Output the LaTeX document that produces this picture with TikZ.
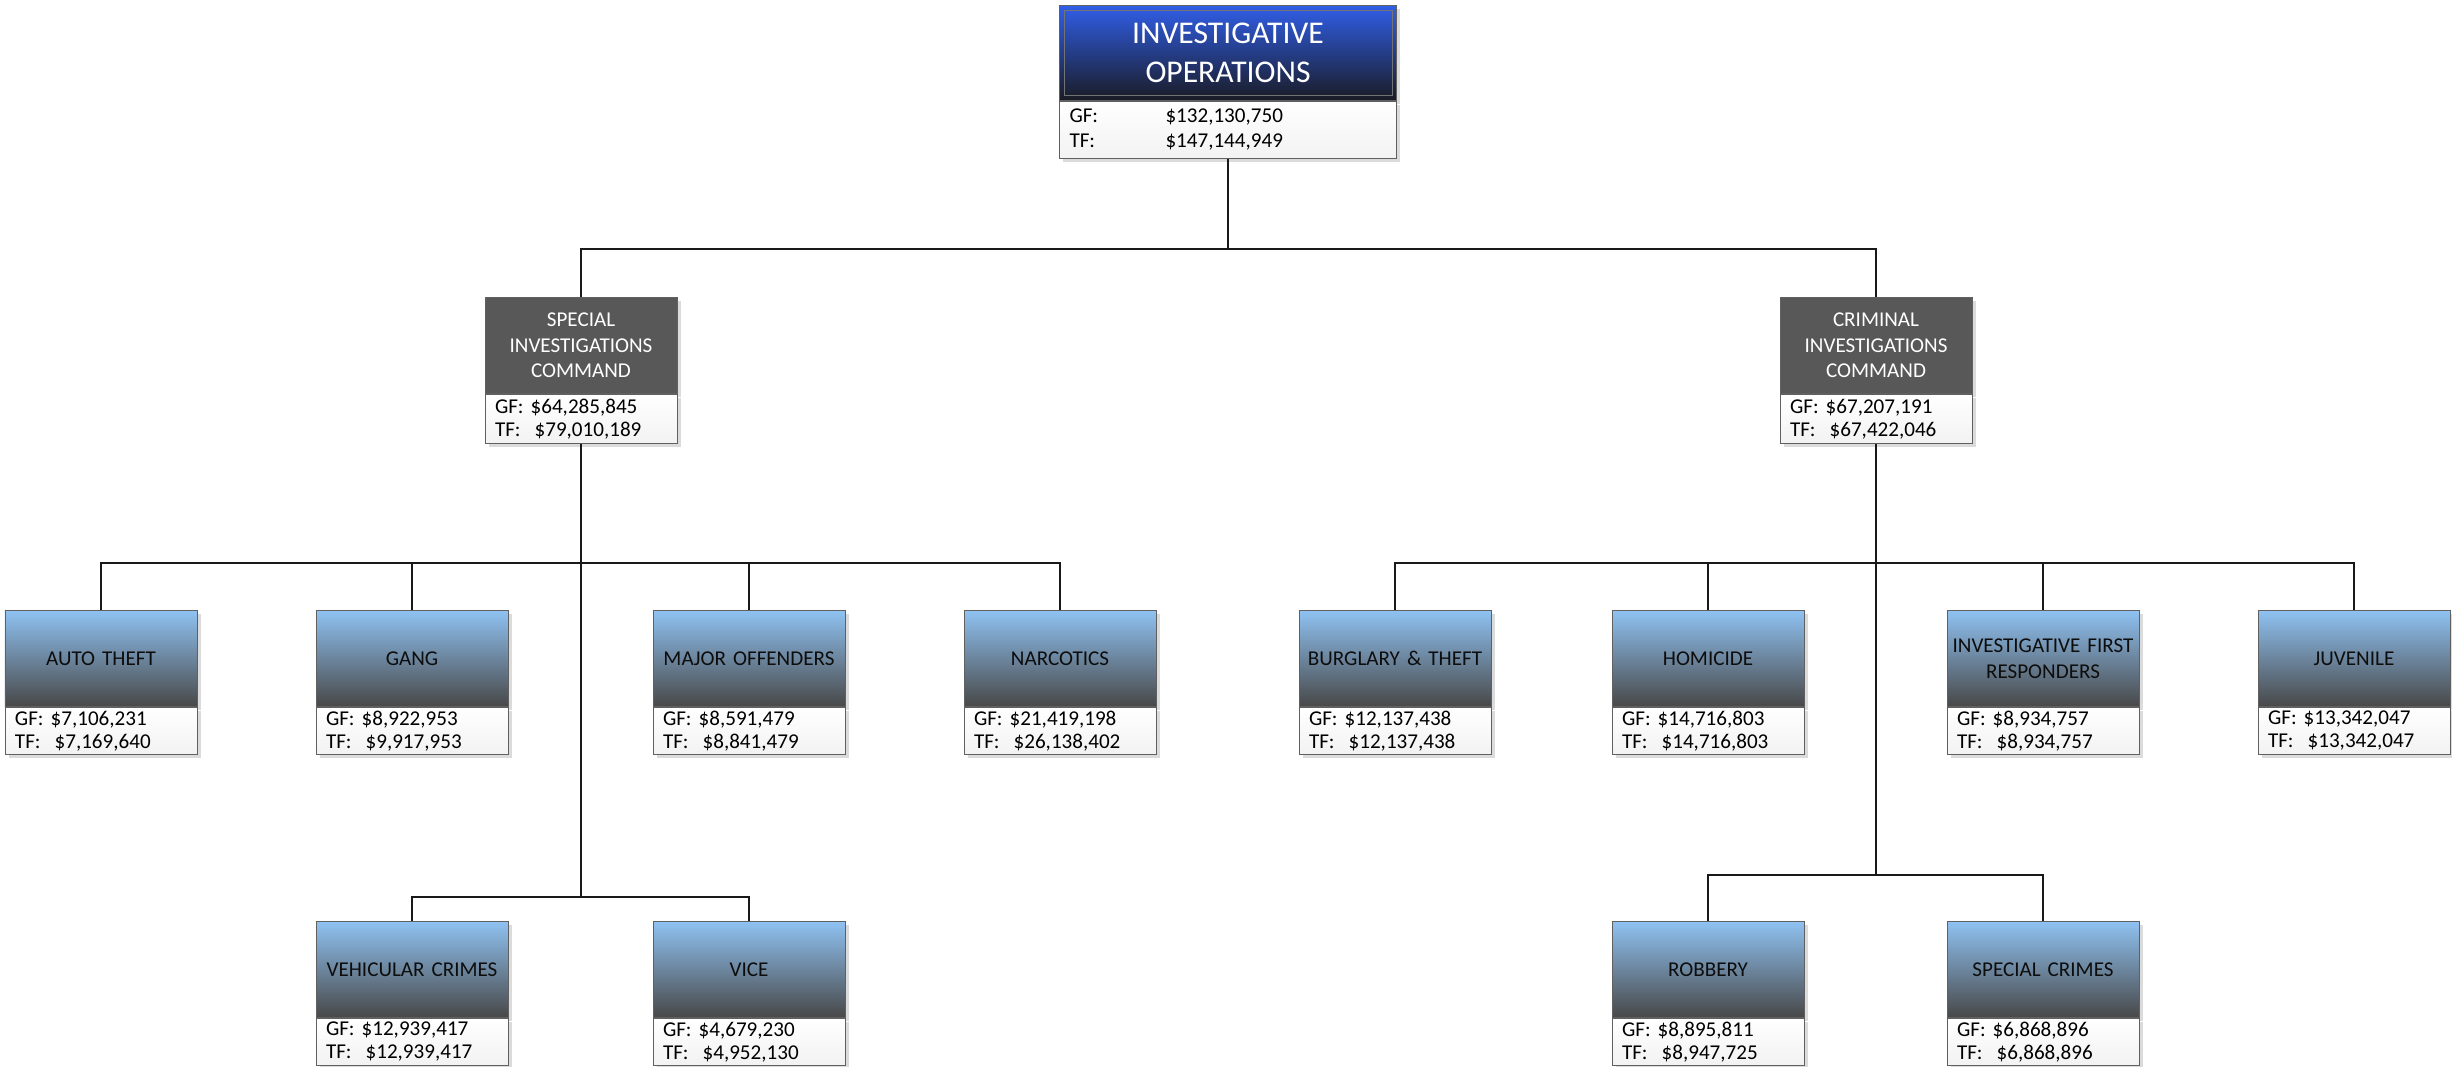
\documentclass[tikz,border=0pt]{standalone}
\usepackage{fontspec}
\setmainfont{Carlito}
\usepackage{tikz}
\usetikzlibrary{positioning,shadows}
\frenchspacing

\definecolor{leaftop}{RGB}{143,194,242}
\definecolor{leafbot}{RGB}{72,72,72}
\definecolor{cmdgray}{RGB}{88,88,88}
\definecolor{toptop}{RGB}{48,94,232}
\definecolor{topbot}{RGB}{26,27,36}
\definecolor{edge}{RGB}{96,96,96}

\newcommand{\amt}[2]{GF: \$#1\\TF:\ \ \$#2}

\begin{document}
\begin{tikzpicture}[
x=0.2mm, y=-0.2mm,
wire/.style={
  draw=black!90,
  line width=1.2pt
},
unit/.style={
  draw=edge,
  line width=0.5pt,
  anchor=north,
  inner sep=0pt,
  minimum width=38.4mm,
  minimum height=19.2mm,
  text width=37.4mm,
  align=center,
  font=\fontsize{12}{14.6}\selectfont,
  drop shadow={shadow xshift=2.2pt, shadow yshift=-2.2pt, fill=black!14, opacity=1}
},
leaf/.style={
  unit,
  top color=leaftop,
  bottom color=leafbot,
  text=black!95
},
cmd/.style={
  unit,
  fill=cmdgray,
  text=white
},
vals/.style={
  draw=edge,
  line width=0.5pt,
  inner xsep=2mm,
  inner ysep=0pt,
  minimum width=38.4mm,
  minimum height=9.4mm,
  text width=34.4mm,
  align=left,
  top color=white,
  bottom color=black!5,
  font=\fontsize{12}{13.2}\selectfont,
  drop shadow={shadow xshift=2.2pt, shadow yshift=-2.2pt, fill=black!14, opacity=1}
},
topbox/.style={
  unit,
  minimum width=67.4mm,
  minimum height=19mm,
  text width=62mm,
  top color=toptop,
  bottom color=topbot,
  text=white,
  font=\fontsize{18}{22}\selectfont
},
topvals/.style={
  vals,
  minimum width=67.4mm,
  minimum height=11.4mm,
  text width=63.4mm,
  font=\fontsize{12}{14.2}\selectfont
}
]
\useasboundingbox (0,0) rectangle (2452,1066);

% bus levels
\coordinate (lvl1) at (0,249);
\coordinate (lvl2) at (0,563);
\coordinate (lvl3) at (0,897);
\coordinate (lvl3r) at (0,875);

% top
\node[topbox] (inv) at (1228,5)
  {INVESTIGATIVE\\OPERATIONS};
\node[topvals,below=0pt of inv] (invv)
  {\makebox[19.2mm][l]{GF:}\$132,130,750\\\makebox[19.2mm][l]{TF:}\$147,144,949};
\draw[black!55,line width=0.5pt] ([shift={(5,5)}]inv.north west) rectangle ([shift={(-5,-5)}]inv.south east);

% commands
\node[cmd] (sic) at (581,297)
  {SPECIAL\\INVESTIGATIONS\\COMMAND};
\node[vals,below=0pt of sic,minimum height=9.8mm] (sicv)
  {\amt{64,285,845}{79,010,189}};
\node[cmd] (cic) at (1876,297)
  {CRIMINAL\\INVESTIGATIONS\\COMMAND};
\node[vals,below=0pt of cic,minimum height=9.8mm] (cicv)
  {\amt{67,207,191}{67,422,046}};

% special investigations units
\node[leaf] (auto) at (101,610) {AUTO THEFT};
\node[vals,below=0pt of auto] (autov) {\amt{7,106,231}{7,169,640}};
\node[leaf] (gang) at (412,610) {GANG};
\node[vals,below=0pt of gang] (gangv) {\amt{8,922,953}{9,917,953}};
\node[leaf] (major) at (749,610) {MAJOR OFFENDERS};
\node[vals,below=0pt of major] (majorv) {\amt{8,591,479}{8,841,479}};
\node[leaf] (narc) at (1060,610) {NARCOTICS};
\node[vals,below=0pt of narc] (narcv) {\amt{21,419,198}{26,138,402}};
\node[leaf] (vehic) at (412,921) {VEHICULAR CRIMES};
\node[vals,below=0pt of vehic] (vehicv) {\amt{12,939,417}{12,939,417}};
\node[leaf] (vice) at (749,921) {VICE};
\node[vals,below=0pt of vice] (vicev) {\amt{4,679,230}{4,952,130}};

% criminal investigations units
\node[leaf] (burg) at (1395,610) {BURGLARY \& THEFT};
\node[vals,below=0pt of burg] (burgv) {\amt{12,137,438}{12,137,438}};
\node[leaf] (homi) at (1708,610) {HOMICIDE};
\node[vals,below=0pt of homi] (homiv) {\amt{14,716,803}{14,716,803}};
\node[leaf] (ifr) at (2043,610) {INVESTIGATIVE FIRST\\RESPONDERS};
\node[vals,below=0pt of ifr] (ifrv) {\amt{8,934,757}{8,934,757}};
\node[leaf] (juv) at (2354,610) {JUVENILE};
\node[vals,below=0pt of juv] (juvv) {\amt{13,342,047}{13,342,047}};
\node[leaf] (robb) at (1708,921) {ROBBERY};
\node[vals,below=0pt of robb] (robbv) {\amt{8,895,811}{8,947,725}};
\node[leaf] (spec) at (2043,921) {SPECIAL CRIMES};
\node[vals,below=0pt of spec] (specv) {\amt{6,868,896}{6,868,896}};

% connectors
\draw[wire] (invv.south) -- (invv.south |- lvl1);
\draw[wire] (sic.north) -- (sic.north |- lvl1) -- (cic.north |- lvl1) -- (cic.north);

\draw[wire] (sicv.south) -- (sicv.south |- lvl3);
\draw[wire] (auto.north) -- (auto.north |- lvl2) -- (narc.north |- lvl2) -- (narc.north);
\draw[wire] (gang.north) -- (gang.north |- lvl2);
\draw[wire] (major.north) -- (major.north |- lvl2);
\draw[wire] (vehic.north) -- (vehic.north |- lvl3) -- (vice.north |- lvl3) -- (vice.north);

\draw[wire] (cicv.south) -- (cicv.south |- lvl3r);
\draw[wire] (burg.north) -- (burg.north |- lvl2) -- (juv.north |- lvl2) -- (juv.north);
\draw[wire] (homi.north) -- (homi.north |- lvl2);
\draw[wire] (ifr.north) -- (ifr.north |- lvl2);
\draw[wire] (robb.north) -- (robb.north |- lvl3r) -- (spec.north |- lvl3r) -- (spec.north);
\end{tikzpicture}
\end{document}
